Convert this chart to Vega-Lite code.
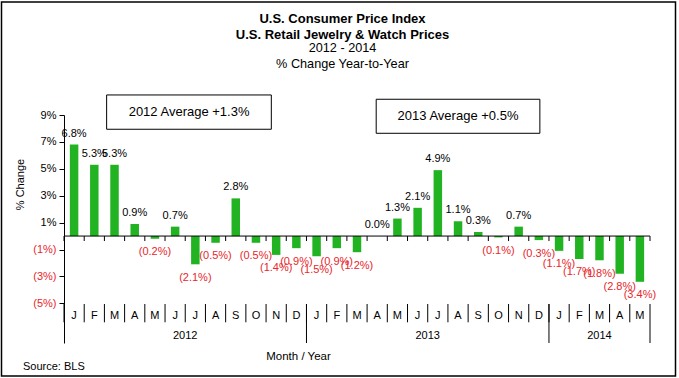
{
  "$schema": "https://vega.github.io/schema/vega-lite/v6.json",
  "width": 586,
  "height": 228,
  "autosize": {"type": "none"},
  "padding": {"left": 64, "top": 115, "right": 29, "bottom": 35},
  "background": "white",
  "config": {
    "view": {"stroke": null},
    "font": "Liberation Sans",
    "scale": {"bandPaddingInner": 0, "bandPaddingOuter": 0},
    "text": {"font": "Liberation Sans"}
  },
  "title": {
    "text": ["U.S. Consumer Price Index", "U.S. Retail Jewelry & Watch Prices"],
    "subtitle": ["2012 - 2014", "% Change Year-to-Year"],
    "font": "Liberation Sans",
    "fontSize": 13,
    "fontWeight": "bold",
    "lineHeight": 16,
    "color": "black",
    "subtitleFont": "Liberation Sans",
    "subtitleFontSize": 12.7,
    "subtitleLineHeight": 15.6,
    "subtitleColor": "black",
    "subtitlePadding": 0,
    "anchor": "middle",
    "frame": "bounds",
    "dx": 4,
    "offset": -69
  },
  "data": {
    "values": [
      {"key": "2012-01", "month": "J", "value": 0.068},
      {"key": "2012-02", "month": "F", "value": 0.053},
      {"key": "2012-03", "month": "M", "value": 0.053},
      {"key": "2012-04", "month": "A", "value": 0.009},
      {"key": "2012-05", "month": "M", "value": -0.002},
      {"key": "2012-06", "month": "J", "value": 0.007},
      {"key": "2012-07", "month": "J", "value": -0.021},
      {"key": "2012-08", "month": "A", "value": -0.005},
      {"key": "2012-09", "month": "S", "value": 0.028},
      {"key": "2012-10", "month": "O", "value": -0.005},
      {"key": "2012-11", "month": "N", "value": -0.014},
      {"key": "2012-12", "month": "D", "value": -0.009},
      {"key": "2013-01", "month": "J", "value": -0.015},
      {"key": "2013-02", "month": "F", "value": -0.009},
      {"key": "2013-03", "month": "M", "value": -0.012},
      {"key": "2013-04", "month": "A", "value": 0.0},
      {"key": "2013-05", "month": "M", "value": 0.013},
      {"key": "2013-06", "month": "J", "value": 0.021},
      {"key": "2013-07", "month": "J", "value": 0.049},
      {"key": "2013-08", "month": "A", "value": 0.011},
      {"key": "2013-09", "month": "S", "value": 0.003},
      {"key": "2013-10", "month": "O", "value": -0.001},
      {"key": "2013-11", "month": "N", "value": 0.007},
      {"key": "2013-12", "month": "D", "value": -0.003},
      {"key": "2014-01", "month": "J", "value": -0.011},
      {"key": "2014-02", "month": "F", "value": -0.017},
      {"key": "2014-03", "month": "M", "value": -0.018},
      {"key": "2014-04", "month": "A", "value": -0.028},
      {"key": "2014-05", "month": "M", "value": -0.034}
    ]
  },
  "layer": [
    {
      "mark": {"type": "bar", "color": "#22b322", "width": {"band": 0.42}},
      "encoding": {
        "x": {
          "field": "key", "type": "nominal",
          "scale": {"type": "band", "paddingInner": 0, "paddingOuter": 0},
          "axis": {"labels": false, "ticks": false, "domain": false, "title": "Month / Year",
                   "titleFont": "Liberation Sans", "titleFontSize": 11.5, "titleFontWeight": "normal",
                   "titleColor": "black", "titleX": 234, "titleY": 13, "titleBaseline": "middle", "titleAlign": "center"}
        },
        "y": {
          "field": "value", "type": "quantitative",
          "scale": {"domain": [-0.0795, 0.09], "nice": false, "zero": false},
          "axis": {
            "values": [-0.05, -0.03, -0.01, 0.01, 0.03, 0.05, 0.07, 0.09],
            "tickCount": 20,
            "format": "(.0%",
            "labelOverlap": false,
            "grid": false,
            "domainColor": "black",
            "domainWidth": 1,
            "tickColor": "black",
            "tickSize": 5,
            "labelPadding": 3,
            "labelFont": "Liberation Sans",
            "labelFontSize": 11,
            "labelColor": {"condition": {"test": "datum.value < 0", "value": "#e8262b"}, "value": "black"},
            "title": "% Change",
            "titleFont": "Liberation Sans",
            "titleFontSize": 11,
            "titleFontWeight": "normal",
            "titleColor": "black",
            "titleX": -44,
            "titleY": 69,
            "titleAngle": -90,
            "titleAlign": "center",
            "titleBaseline": "middle"
          }
        }
      }
    },
    {
      "data": {"values": [{}]},
      "mark": {"type": "rect", "fillOpacity": 0, "stroke": "black", "strokeWidth": 1.5, "xOffset": -62.5, "x2Offset": 25.5},
      "encoding": {
        "x": {"datum": "2012-01", "bandPosition": 0},
        "x2": {"datum": "2014-05", "bandPosition": 1},
        "y": {"datum": 0.174},
        "y2": {"datum": -0.104}
      }
    },
    {
      "data": {"values": [{}]},
      "mark": {"type": "rule", "color": "black", "strokeWidth": 1},
      "encoding": {"y": {"datum": 0}}
    },
    {
      "mark": {"type": "rule", "color": "black", "strokeWidth": 1},
      "encoding": {
        "x": {"field": "key", "type": "nominal", "bandPosition": 0},
        "y": {"datum": 0},
        "y2": {"datum": -0.0037}
      }
    },
    {
      "data": {"values": [{}]},
      "mark": {"type": "rule", "color": "black", "strokeWidth": 1},
      "encoding": {
        "x": {"datum": "2014-05", "bandPosition": 1},
        "y": {"datum": 0},
        "y2": {"datum": -0.0037}
      }
    },
    {
      "mark": {"type": "rule", "color": "black", "strokeWidth": 1},
      "encoding": {
        "x": {"field": "key", "type": "nominal", "bandPosition": 0},
        "y": {"datum": -0.0505},
        "y2": {"datum": -0.0641}
      }
    },
    {
      "data": {"values": [{"key": "2013-01"}, {"key": "2014-01"}]},
      "mark": {"type": "rule", "color": "black", "strokeWidth": 1},
      "encoding": {
        "x": {"field": "key", "type": "nominal", "bandPosition": 0},
        "y": {"datum": -0.0505},
        "y2": {"datum": -0.0795}
      }
    },
    {
      "data": {"values": [{}]},
      "mark": {"type": "rule", "color": "black", "strokeWidth": 1},
      "encoding": {
        "x": {"datum": "2014-05", "bandPosition": 1},
        "y": {"datum": -0.0505},
        "y2": {"datum": -0.0795}
      }
    },
    {
      "mark": {"type": "text", "fontSize": 11, "color": "black", "baseline": "middle", "align": "center"},
      "encoding": {
        "x": {"field": "key", "type": "nominal"},
        "y": {"datum": -0.0597},
        "text": {"field": "month"}
      }
    },
    {
      "data": {"values": [{"key": "2012-07", "year": "2012"}, {"key": "2013-07", "year": "2013"}]},
      "mark": {"type": "text", "fontSize": 11, "color": "black", "baseline": "middle", "align": "center"},
      "encoding": {
        "x": {"field": "key", "type": "nominal", "bandPosition": 0},
        "y": {"datum": -0.0745},
        "text": {"field": "year"}
      }
    },
    {
      "data": {"values": [{"key": "2014-03", "year": "2014"}]},
      "mark": {"type": "text", "fontSize": 11, "color": "black", "baseline": "middle", "align": "center"},
      "encoding": {
        "x": {"field": "key", "type": "nominal"},
        "y": {"datum": -0.0745},
        "text": {"field": "year"}
      }
    },
    {
      "transform": [{"filter": "datum.value >= 0"}],
      "mark": {"type": "text", "fontSize": 11, "color": "black", "baseline": "middle", "align": "center", "dy": -11},
      "encoding": {
        "x": {"field": "key", "type": "nominal"},
        "y": {"field": "value", "type": "quantitative"},
        "text": {"field": "value", "type": "quantitative", "format": "(.1%"}
      }
    },
    {
      "transform": [{"filter": "datum.value < 0"}],
      "mark": {"type": "text", "fontSize": 11, "color": "#e8262b", "baseline": "middle", "align": "center", "dy": 13.5},
      "encoding": {
        "x": {"field": "key", "type": "nominal"},
        "y": {"field": "value", "type": "quantitative"},
        "text": {"field": "value", "type": "quantitative", "format": "(.1%"}
      }
    },
    {
      "data": {"values": [{}]},
      "mark": {"type": "rect", "fill": "white", "stroke": "black", "strokeWidth": 1},
      "encoding": {
        "x": {"datum": "2012-03", "bandPosition": 0.11},
        "x2": {"datum": "2012-11", "bandPosition": 0.26},
        "y": {"datum": 0.1049},
        "y2": {"datum": 0.0794}
      }
    },
    {
      "data": {"values": [{"label": "2012 Average +1.3%"}]},
      "mark": {"type": "text", "fontSize": 13, "color": "black", "baseline": "middle", "align": "center"},
      "encoding": {
        "x": {"datum": "2012-07", "bandPosition": 0.19},
        "y": {"datum": 0.0921},
        "text": {"field": "label"}
      }
    },
    {
      "data": {"values": [{}]},
      "mark": {"type": "rect", "fill": "white", "stroke": "black", "strokeWidth": 1},
      "encoding": {
        "x": {"datum": "2013-04", "bandPosition": 0.45},
        "x2": {"datum": "2013-12", "bandPosition": 0.55},
        "y": {"datum": 0.1017},
        "y2": {"datum": 0.0764}
      }
    },
    {
      "data": {"values": [{"label": "2013 Average +0.5%"}]},
      "mark": {"type": "text", "fontSize": 13, "color": "black", "baseline": "middle", "align": "center"},
      "encoding": {
        "x": {"datum": "2013-08", "bandPosition": 0.5},
        "y": {"datum": 0.089},
        "text": {"field": "label"}
      }
    },
    {
      "data": {"values": [{"label": "Source:  BLS"}]},
      "mark": {"type": "text", "fontSize": 11, "color": "black", "baseline": "middle", "align": "left", "xOffset": -41},
      "encoding": {
        "x": {"datum": "2012-01", "bandPosition": 0},
        "y": {"datum": -0.0973},
        "text": {"field": "label"}
      }
    }
  ]
}
